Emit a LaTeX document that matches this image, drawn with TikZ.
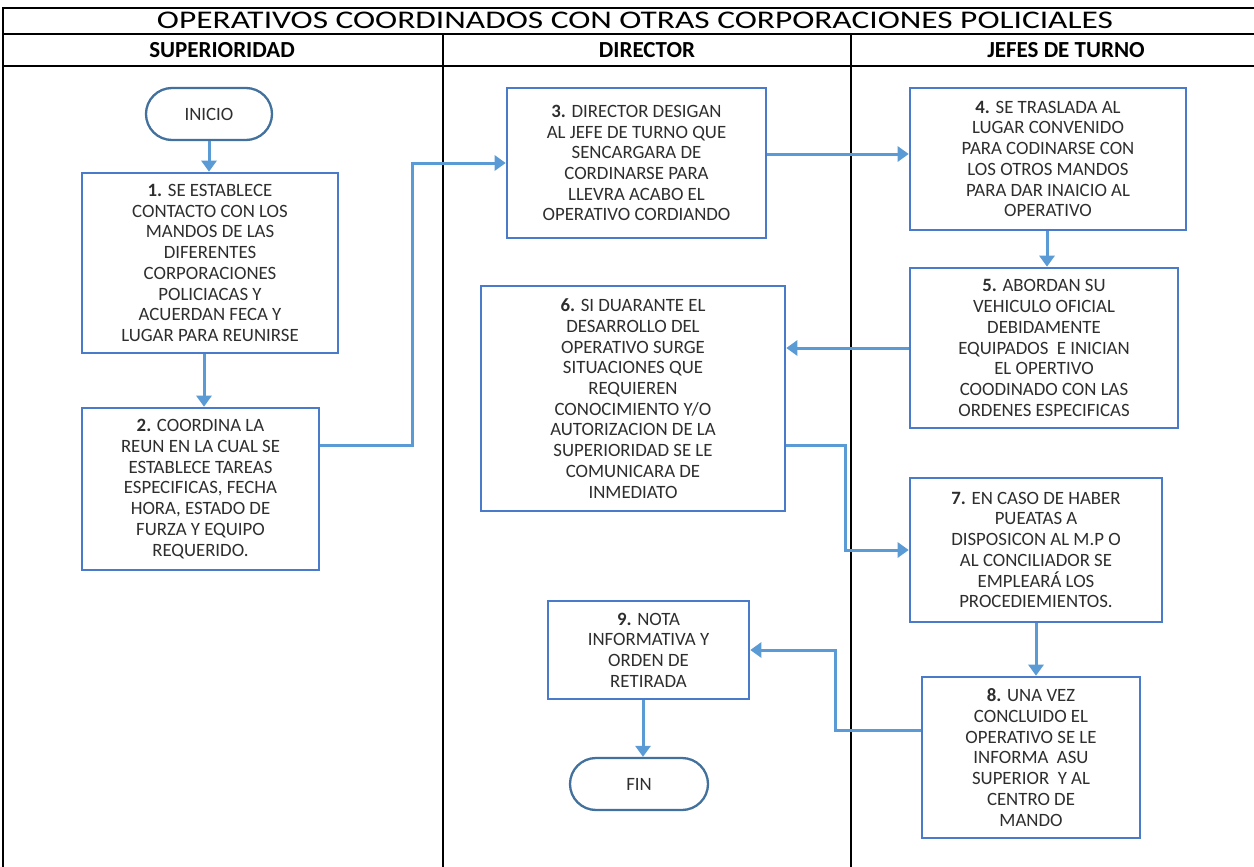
\documentclass[tikz,border=0pt]{standalone}
\usepackage{fontspec}
\setmainfont{Carlito}
\usetikzlibrary{arrows.meta,calc}
\definecolor{boxblue}{HTML}{4A7BCB}
\definecolor{arrblue}{HTML}{5B9BD5}
\definecolor{termblue}{HTML}{41719C}
\definecolor{txt}{HTML}{2E2E2E}
\tikzset{
  frame/.style={draw=black, line width=1.8pt},
  stepbox/.style={draw=boxblue, line width=2.6pt, fill=white, text=txt, align=center,
    font=\fontsize{18.8}{20.7}\selectfont, inner sep=0pt},
  term/.style={draw=termblue, line width=2.3pt, fill=white, text=txt, rounded corners=26pt,
    font=\fontsize{18.8}{20.7}\selectfont, minimum height=52pt, inner sep=0pt},
  arr/.style={draw=arrblue, line width=3pt, -{Triangle[length=11pt,width=15pt]}},
  head/.style={font=\bfseries\fontsize{23}{26}\selectfont, text=black}
}
\begin{document}
\begin{tikzpicture}[x=1pt,y=-1pt]
\useasboundingbox (0,0) rectangle (1254,867);
% frame
\draw[frame] (3,867) -- (3,8) -- (1254,8);
\draw[frame] (3,34) -- (1254,34);
\draw[frame] (3,66) -- (1254,66);
\draw[frame] (443,34) -- (443,867);
\draw[frame] (851,34) -- (851,867);
\node[anchor=base, text=black] (title) at (635,29) {\resizebox{956pt}{16.5pt}{OPERATIVOS COORDINADOS CON OTRAS CORPORACIONES POLICIALES}};
\node[head] (h1) at (222,50) {SUPERIORIDAD};
\node[head] (h2) at (647,50) {DIRECTOR};
\node[head] (h3) at (1066,50) {JEFES DE TURNO};
% nodes
\node[term, minimum width=126pt] (ini) at (209,114) {INICIO};
\node[stepbox, minimum width=256pt, minimum height=180pt] (b1) at (210,263)
 {\textbf{1.} SE ESTABLECE\\CONTACTO CON LOS\\MANDOS DE LAS\\DIFERENTES\\CORPORACIONES\\POLICIACAS Y\\ACUERDAN FECA Y\\LUGAR PARA REUNIRSE};
\node[stepbox, minimum width=237pt, minimum height=162pt] (b2) at (200.5,489)
 {\textbf{2.} COORDINA LA\\REUN EN LA CUAL SE\\ESTABLECE TAREAS\\ESPECIFICAS, FECHA\\HORA, ESTADO DE\\FURZA Y EQUIPO\\REQUERIDO.};
\node[stepbox, minimum width=259pt, minimum height=150pt] (b3) at (636.5,163)
 {\textbf{3.} DIRECTOR DESIGAN\\AL JEFE DE TURNO QUE\\SENCARGARA DE\\CORDINARSE PARA\\LLEVRA ACABO EL\\OPERATIVO CORDIANDO};
\node[stepbox, minimum width=276pt, minimum height=142pt] (b4) at (1048,159)
 {\textbf{4.} SE TRASLADA AL\\LUGAR CONVENIDO\\PARA CODINARSE CON\\LOS OTROS MANDOS\\PARA DAR INAICIO AL\\OPERATIVO};
\node[stepbox, minimum width=268pt, minimum height=160pt] (b5) at (1044,348)
 {\textbf{5.} ABORDAN SU\\VEHICULO OFICIAL\\DEBIDAMENTE\\EQUIPADOS\ \ E INICIAN\\EL OPERTIVO\\COODINADO CON LAS\\ORDENES ESPECIFICAS};
\node[stepbox, minimum width=304pt, minimum height=225pt] (b6) at (633,398.5)
 {\textbf{6.} SI DUARANTE EL\\DESARROLLO DEL\\OPERATIVO SURGE\\SITUACIONES QUE\\REQUIEREN\\CONOCIMIENTO Y/O\\AUTORIZACION DE LA\\SUPERIORIDAD SE LE\\COMUNICARA DE\\INMEDIATO};
\node[stepbox, minimum width=252pt, minimum height=144pt] (b7) at (1036,550)
 {\textbf{7.} EN CASO DE HABER\\PUEATAS A\\DISPOSICON AL M.P O\\AL CONCILIADOR SE\\EMPLEARÁ LOS\\PROCEDIEMIENTOS.};
\node[stepbox, minimum width=218pt, minimum height=161pt] (b8) at (1031,757.5)
 {\textbf{8.} UNA VEZ\\CONCLUIDO EL\\OPERATIVO SE LE\\INFORMA\ \ ASU\\SUPERIOR\ \ Y AL\\CENTRO DE\\MANDO};
\node[stepbox, minimum width=201pt, minimum height=98pt] (b9) at (648.5,650)
 {\textbf{9.} NOTA\\INFORMATIVA Y\\ORDEN DE\\RETIRADA};
\node[term, minimum width=138pt] (fin) at (639,784) {FIN};
% connectors
\coordinate (c23) at (412,445);
\coordinate (c67) at (845,445);
\coordinate (c89) at (835,730);
\draw[arr] (ini.south -| 209,0) -- (b1.north -| 209,0);
\draw[arr] (b1.south -| 204,0) -- (b2.north -| 204,0);
\draw[arr] (b2.east |- c23) -- (c23) |- (b3.west);
\draw[arr] (b3.east |- 0,154) -- (b4.west |- 0,154);
\draw[arr] (b4.south -| 1047,0) -- (b5.north -| 1047,0);
\draw[arr] (b5.west) -- (b6.east |- b5.west);
\draw[arr] (b6.east |- c67) -- (c67) |- (b7.west);
\draw[arr] (b7.south) -- (b8.north -| b7.south);
\draw[arr] (b8.west |- c89) -- (c89) |- (b9.east);
\draw[arr] (b9.south -| 643,0) -- (fin.north -| 643,0);
\end{tikzpicture}
\end{document}
